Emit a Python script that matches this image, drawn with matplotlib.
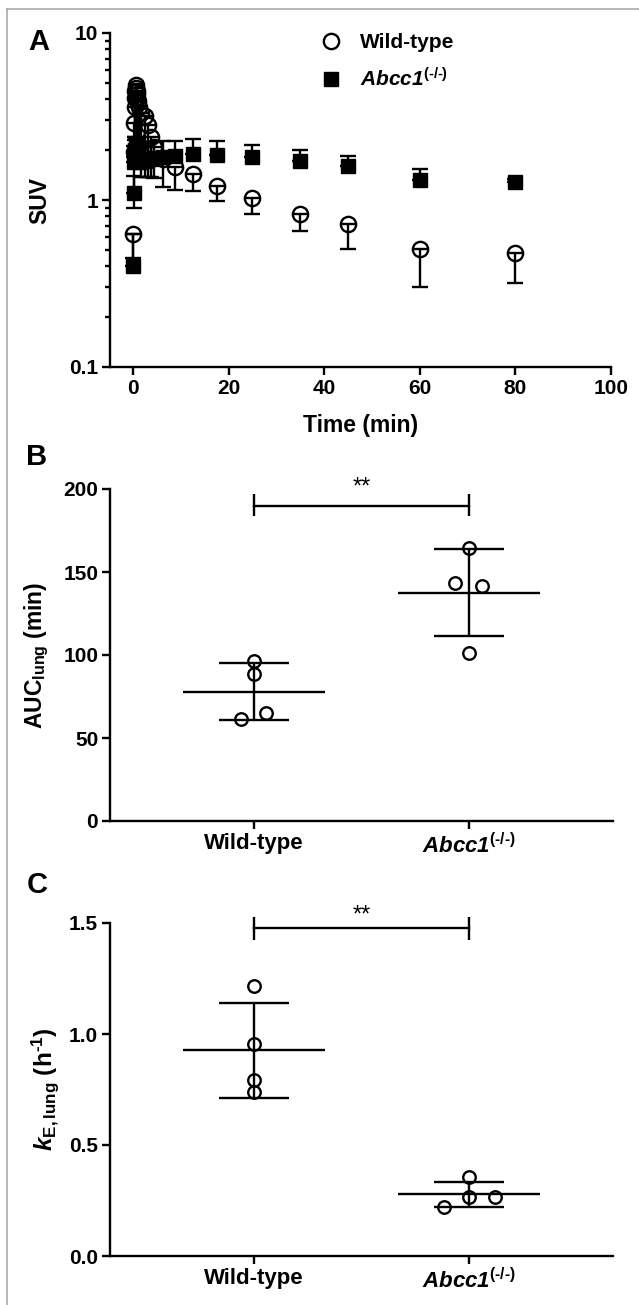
import numpy as np
import matplotlib
matplotlib.use("Agg")
import matplotlib.pyplot as plt
from matplotlib.lines import Line2D
from matplotlib.ticker import LogLocator, NullFormatter, FixedLocator

plt.rcParams['font.family'] = ['Liberation Sans', 'DejaVu Sans']
plt.rcParams['font.weight'] = 'bold'
plt.rcParams['mathtext.fontset'] = 'custom'
plt.rcParams['mathtext.rm'] = 'Liberation Sans:bold'
plt.rcParams['mathtext.bf'] = 'Liberation Sans:bold'
plt.rcParams['mathtext.it'] = 'Liberation Sans:italic'
plt.rcParams['mathtext.bfit'] = 'Liberation Sans:italic:bold'

# panel A: time-activity curves (SUV), mean with one-sided SD
time_min = [0.08, 0.17, 0.25, 0.33, 0.42, 0.5, 0.58, 0.67, 0.75, 0.83, 0.92, 1.0,
            1.25, 1.75, 2.5, 3.25, 3.75, 4.5, 6.25, 8.75, 12.5, 17.5, 25, 35, 45, 60, 80]
wt_suv = [0.63, 1.95, 2.9, 3.6, 4.1, 4.5, 4.85, 4.7, 4.5, 4.3, 4.1, 3.9,
          3.6, 3.3, 3.2, 2.8, 2.4, 2.08, 1.75, 1.57, 1.43, 1.22, 1.03, 0.83, 0.72, 0.51, 0.48]
wt_sd = [0.18, 1.06, 1.1, 1.6, 2.2, 2.6, 2.9, 2.8, 2.6, 2.5, 2.3, 2.1,
         1.9, 1.93, 1.83, 1.43, 1.03, 0.73, 0.55, 0.43, 0.30, 0.24, 0.21, 0.18, 0.21, 0.21, 0.16]
ko_suv = [0.40, 1.10, 1.70, 1.90, 2.00, 2.00, 1.95, 1.90, 1.85, 1.80, 1.78, 1.75,
          1.72, 1.70, 1.72, 1.75, 1.76, 1.78, 1.80, 1.83, 1.89, 1.86, 1.80, 1.71, 1.59, 1.32, 1.29]
ko_sd = [0.23, 0.30, 0.40, 0.40, 0.40, 0.40, 0.40, 0.40, 0.40, 0.40, 0.40, 0.40,
         0.40, 0.42, 0.42, 0.45, 0.45, 0.45, 0.45, 0.42, 0.44, 0.39, 0.33, 0.29, 0.24, 0.21, 0.05]

HY = "\u2010"  # plain hyphen, so mathtext does not turn it into a minus sign
ko_name = "$\\mathbfit{Abcc1}^{\\mathit{(" + HY + "/" + HY + ")}}$"
groups = ["Wild-type", ko_name]
legend_labels = ["Wild-type", ko_name]

# panel B: AUC lung (min), individual animals
auc_wt = [96.5, 88.4, 61.5, 65.3]
auc_ko = [164.4, 143.3, 141.3, 101.5]

# panel C: k_E,lung (h-1), individual animals
ke_wt = [1.217, 0.957, 0.793, 0.740]
ke_ko = [0.357, 0.266, 0.266, 0.221]

W, H = 639, 1305
fig = plt.figure(figsize=(W / 100, H / 100), dpi=100)

def box(l, t, r, b):
    return [l / W, 1 - b / H, (r - l) / W, (b - t) / H]

lw = 1.7
tick_fs = 15
lab_fs = 16.5

def style(ax):
    for s in ['top', 'right']:
        ax.spines[s].set_visible(False)
    for s in ['left', 'bottom']:
        ax.spines[s].set_linewidth(lw)
    ax.tick_params(width=lw, length=5.5, labelsize=tick_fs, pad=3)
    ax.tick_params(which='minor', width=lw, length=3.5)

# ---- A ----
axA = fig.add_axes(box(110, 33, 611, 367))
style(axA)
axA.set_yscale('log')
axA.set_ylim(0.1, 10)
axA.set_xlim(-4.8, 100)
axA.set_xticks([0, 20, 40, 60, 80, 100])
axA.yaxis.set_major_locator(FixedLocator([0.1, 1, 10]))
axA.set_yticklabels(['0.1', '1', '10'])
axA.yaxis.set_minor_locator(LogLocator(base=10, subs=np.arange(2, 10)))
axA.yaxis.set_minor_formatter(NullFormatter())

t = np.array(time_min)
ko = np.array(ko_suv)
wt = np.array(wt_suv)
axA.errorbar(t, ko, yerr=[np.zeros_like(ko), np.array(ko_sd)], fmt='s', color='black',
             ms=10, mfc='black', mec='black', ecolor='black', elinewidth=lw,
             capsize=6, capthick=lw, zorder=2)
axA.errorbar(t, wt, yerr=[np.array(wt_sd), np.zeros_like(wt)], fmt='o', color='black',
             ms=11, mfc='none', mec='black', mew=lw, ecolor='black', elinewidth=lw,
             capsize=6, capthick=lw, zorder=3)
axA.set_ylabel('SUV', fontsize=lab_fs, fontweight='bold')
axA.yaxis.set_label_coords(-0.118, 0.5)
axA.set_xlabel('Time (min)', fontsize=lab_fs, fontweight='bold')
axA.xaxis.set_label_coords(0.5, -0.14)

h1 = Line2D([], [], marker='o', ls='none', ms=11, mfc='none', mec='black', mew=lw)
h2 = Line2D([], [], marker='s', ls='none', ms=10, mfc='black', mec='black')
axA.legend([h1, h2], legend_labels, loc='upper left', bbox_to_anchor=(0.40, 1.03),
           frameon=False, fontsize=15, handlelength=1.0, handletextpad=0.9,
           labelspacing=0.7, borderpad=0)

# ---- B and C: scatter with mean +/- SD ----
def dot_panel(ax, vals_wt, vals_ko, offs_wt, offs_ko):
    style(ax)
    ax.set_xlim(-0.67, 1.67)
    ax.set_xticks([0, 1])
    ax.set_xticklabels(groups)
    for i, (vals, offs) in enumerate([(vals_wt, offs_wt), (vals_ko, offs_ko)]):
        v = np.array(vals)
        m, sd = v.mean(), v.std(ddof=1)
        ax.plot(i + np.array(offs), v, 'o', ms=9, mfc='none', mec='black', mew=lw, zorder=3)
        ax.hlines(m, i - 0.33, i + 0.33, color='black', lw=lw)
        ax.hlines([m - sd, m + sd], i - 0.165, i + 0.165, color='black', lw=lw)
        ax.vlines(i, m - sd, m + sd, color='black', lw=lw)

def sig_bar(ax, y, tick_lo, tick_hi, ystar):
    ax.plot([0, 1], [y, y], color='black', lw=lw, clip_on=False)
    ax.vlines([0, 1], tick_lo, tick_hi, color='black', lw=lw, clip_on=False)
    ax.text(0.5, ystar, '**', ha='center', va='center', fontsize=17, fontweight='normal')

axB = fig.add_axes(box(110, 489, 613, 821))
dot_panel(axB, auc_wt, auc_ko, [0, 0, -0.06, 0.057], [0, -0.063, 0.059, 0])
axB.set_ylim(0, 200)
axB.set_yticks([0, 50, 100, 150, 200])
sig_bar(axB, 190, 183.5, 197, 201)
axB.set_ylabel(r'AUC$_{\mathbf{lung}}$ (min)', fontsize=lab_fs, fontweight='bold')
axB.yaxis.set_label_coords(-0.117, 0.5)

axC = fig.add_axes(box(110, 923, 613, 1256))
dot_panel(axC, ke_wt, ke_ko, [0, 0, 0, 0], [0, 0, 0.12, -0.114])
axC.set_ylim(0, 1.5)
axC.set_yticks([0, 0.5, 1.0, 1.5])
axC.set_yticklabels(['0.0', '0.5', '1.0', '1.5'])
sig_bar(axC, 1.476, 1.425, 1.527, 1.535)
axC.set_ylabel("$\\mathbfit{k}_{\\mathbf{E,lung}}$ $\\mathbf{(h^{" + HY + "1})}$",
               fontsize=lab_fs + 1)
axC.yaxis.set_label_coords(-0.097, 0.5)

for ax in (axB, axC):
    ax.tick_params(axis='x', labelsize=16)

# panel letters
for letter, (x, y) in zip('ABC', [(39, 42), (37, 457), (37, 885)]):
    fig.text(x / W, 1 - y / H, letter, fontsize=21, fontweight='bold', ha='center', va='center')

# grey frame on top and left edge
fig.add_artist(Line2D([7 / W, 1], [1 - 9 / H, 1 - 9 / H], color='#aaaaaa', lw=1.2))
fig.add_artist(Line2D([7 / W, 7 / W], [0, 1 - 9 / H], color='#aaaaaa', lw=1.2))

fig.savefig('out.png', dpi=100)
